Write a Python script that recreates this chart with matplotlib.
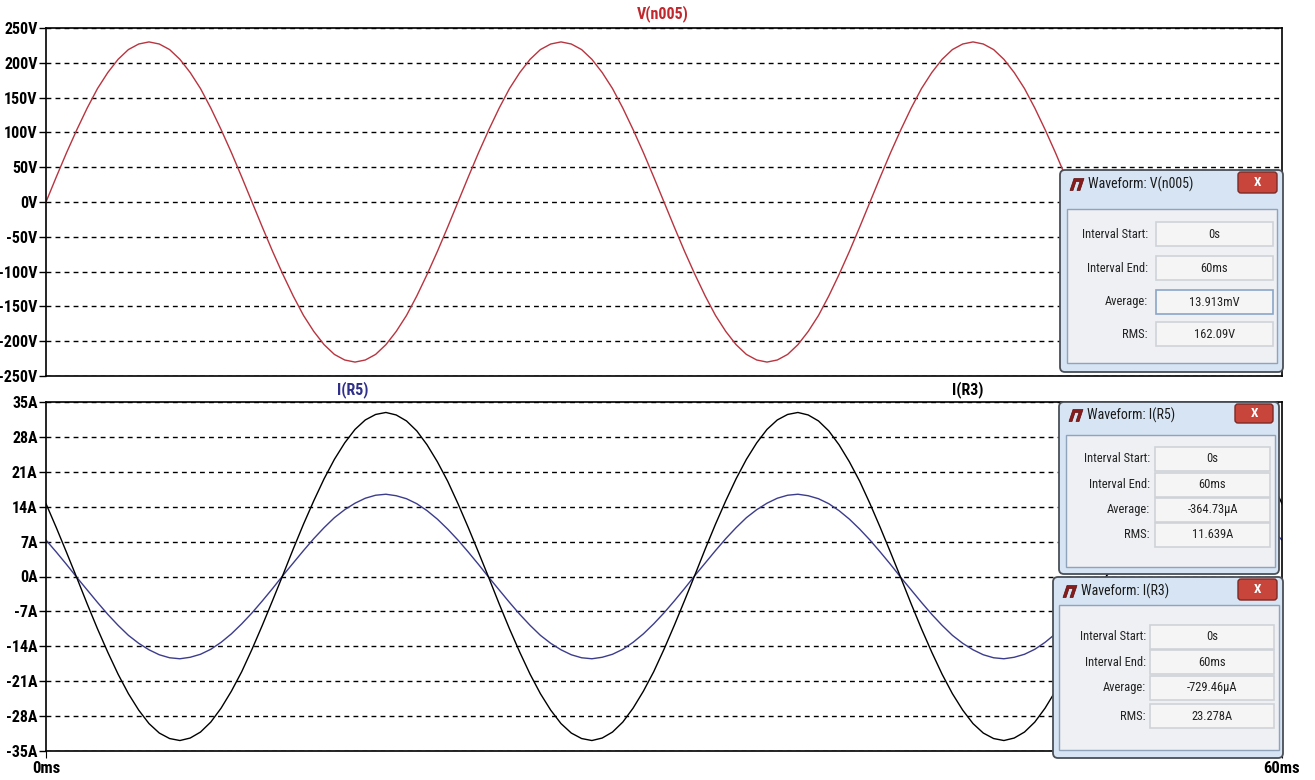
import numpy as np
import matplotlib
matplotlib.use("Agg")
import matplotlib.pyplot as plt
from matplotlib import font_manager
from matplotlib.patches import Rectangle, FancyBboxPatch, Polygon

# ---------------- data (0.5 ms steps) ----------------
t_ms = [k * 0.5 for k in range(121)]

v_n005 = [0, 36, 71, 104, 135, 163, 186, 205, 219, 227, 230, 227, 219, 205, 186, 163, 135, 104, 71, 36,
          0, -36, -71, -104, -135, -163, -186, -205, -219, -227, -230, -227, -219, -205, -186, -163, -135, -104, -71, -36,
          0, 36, 71, 104, 135, 163, 186, 205, 219, 227, 230, 227, 219, 205, 186, 163, 135, 104, 71, 36,
          0, -36, -71, -104, -135, -163, -186, -205, -219, -227, -230, -227, -219, -205, -186, -163, -135, -104, -71, -36,
          0, 36, 71, 104, 135, 163, 186, 205, 219, 227, 230, 227, 219, 205, 186, 163, 135, 104, 71, 36,
          0, -36, -71, -104, -135, -163, -186, -205, -219, -227, -230, -227, -219, -205, -186, -163, -135, -104, -71, -36,
          0]

i_r5 = [7.3, 4.9, 2.4, -0.2, -2.7, -5.2, -7.6, -9.8, -11.8, -13.4, -14.7, -15.7, -16.3, -16.5, -16.2, -15.6, -14.6, -13.2, -11.5, -9.5,
        -7.3, -4.9, -2.4, 0.2, 2.7, 5.2, 7.6, 9.8, 11.8, 13.4, 14.7, 15.7, 16.3, 16.5, 16.2, 15.6, 14.6, 13.2, 11.5, 9.5,
        7.3, 4.9, 2.4, -0.2, -2.7, -5.2, -7.6, -9.8, -11.8, -13.4, -14.7, -15.7, -16.3, -16.5, -16.2, -15.6, -14.6, -13.2, -11.5, -9.5,
        -7.3, -4.9, -2.4, 0.2, 2.7, 5.2, 7.6, 9.8, 11.8, 13.4, 14.7, 15.7, 16.3, 16.5, 16.2, 15.6, 14.6, 13.2, 11.5, 9.5,
        7.3, 4.9, 2.4, -0.2, -2.7, -5.2, -7.6, -9.8, -11.8, -13.4, -14.7, -15.7, -16.3, -16.5, -16.2, -15.6, -14.6, -13.2, -11.5, -9.5,
        -7.3, -4.9, -2.4, 0.2, 2.7, 5.2, 7.6, 9.8, 11.8, 13.4, 14.7, 15.7, 16.3, 16.5, 16.2, 15.6, 14.6, 13.2, 11.5, 9.5,
        7.3]

i_r3 = [14.6, 9.8, 4.8, -0.3, -5.5, -10.5, -15.2, -19.6, -23.5, -26.8, -29.5, -31.4, -32.5, -32.9, -32.4, -31.2, -29.2, -26.4, -23.0, -19.1,
        -14.6, -9.8, -4.8, 0.3, 5.5, 10.5, 15.2, 19.6, 23.5, 26.8, 29.5, 31.4, 32.5, 32.9, 32.4, 31.2, 29.2, 26.4, 23.0, 19.1,
        14.6, 9.8, 4.8, -0.3, -5.5, -10.5, -15.2, -19.6, -23.5, -26.8, -29.5, -31.4, -32.5, -32.9, -32.4, -31.2, -29.2, -26.4, -23.0, -19.1,
        -14.6, -9.8, -4.8, 0.3, 5.5, 10.5, 15.2, 19.6, 23.5, 26.8, 29.5, 31.4, 32.5, 32.9, 32.4, 31.2, 29.2, 26.4, 23.0, 19.1,
        14.6, 9.8, 4.8, -0.3, -5.5, -10.5, -15.2, -19.6, -23.5, -26.8, -29.5, -31.4, -32.5, -32.9, -32.4, -31.2, -29.2, -26.4, -23.0, -19.1,
        -14.6, -9.8, -4.8, 0.3, 5.5, 10.5, 15.2, 19.6, 23.5, 26.8, 29.5, 31.4, 32.5, 32.9, 32.4, 31.2, 29.2, 26.4, 23.0, 19.1,
        14.6]

v_ticks = [-250, -200, -150, -100, -50, 0, 50, 100, 150, 200, 250]
i_ticks = [-35, -28, -21, -14, -7, 0, 7, 14, 21, 28, 35]

# measurement dialogs: (title, interval start, interval end, average, rms)
meas_v = ["Waveform: V(n005)", "0s", "60ms", "13.913mV", "162.09V"]
meas_r5 = ["Waveform: I(R5)", "0s", "60ms", "-364.73\u00b5A", "11.639A"]
meas_r3 = ["Waveform: I(R3)", "0s", "60ms", "-729.46\u00b5A", "23.278A"]
row_names = ["Interval Start:", "Interval End:", "Average:", "RMS:"]

# pick a narrow face if one is installed
names = {f.name for f in font_manager.fontManager.ttflist}
narrow = [n for n in ["Liberation Sans Narrow", "Arial Narrow", "Roboto Condensed",
                      "Open Sans Condensed", "DejaVu Sans Condensed"] if n in names]
FONT = narrow + ["Liberation Sans", "DejaVu Sans"]
plt.rcParams["font.family"] = FONT
plt.rcParams["font.stretch"] = "condensed"

W, H = 1315, 780
fig = plt.figure(figsize=(W / 100, H / 100), dpi=100)


def px_axes(x0, y0, x1, y1):
    return fig.add_axes([x0 / W, 1 - y1 / H, (x1 - x0) / W, (y1 - y0) / H])


def style(ax, ticks, unit):
    ax.set_xlim(0, 60)
    ax.set_ylim(ticks[0], ticks[-1])
    ax.set_yticks(ticks)
    ax.set_yticklabels([f"{v}{unit}" for v in ticks], fontsize=11.5, fontweight="bold")
    ax.tick_params(axis="y", direction="out", length=5, width=1, pad=1)
    ax.yaxis.grid(True, linestyle=(0, (3.5, 3)), color="black", linewidth=1)
    for s in ax.spines.values():
        s.set_linewidth(1.2)


# ----- top: voltage
ax1 = px_axes(46, 28, 1282, 376)
ax1.plot(t_ms, v_n005, color="#b8343f", linewidth=1)
style(ax1, v_ticks, "V")
ax1.set_xticks([])

# ----- bottom: currents
ax2 = px_axes(46, 402, 1282, 751)
ax2.plot(t_ms, i_r5, color="#3c3c8c", linewidth=1)
ax2.plot(t_ms, i_r3, color="black", linewidth=1)
style(ax2, i_ticks, "A")
ax2.set_xticks([0, 60])
ax2.set_xticklabels(["0ms", "60ms"], fontsize=12, fontweight="bold")
ax2.tick_params(axis="x", direction="out", length=5, pad=2)

# ----- overlay in pixel coordinates for trace names and the dialogs
ov = fig.add_axes([0, 0, 1, 1])
ov.set_xlim(0, W)
ov.set_ylim(H, 0)
ov.axis("off")

ov.text(663, 14, "V(n005)", color="#c0282d", fontsize=11.5, fontweight="bold", ha="center", va="center")
ov.text(353, 390, "I(R5)", color="#30308a", fontsize=11.5, fontweight="bold", ha="center", va="center")
ov.text(968, 390, "I(R3)", color="black", fontsize=11.5, fontweight="bold", ha="center", va="center")


def dialog(box, panel, btn, vx, label_r, rows_y, meas, focus=False):
    x0, y0, x1, y1 = box
    ov.add_patch(FancyBboxPatch((x0, y0), x1 - x0, y1 - y0, boxstyle="round,pad=0,rounding_size=5",
                                facecolor="#d6e4f3", edgecolor="#4a4f57", linewidth=1.3, zorder=5))
    px0, py0, px1, py1 = panel
    ov.add_patch(Rectangle((px0, py0), px1 - px0, py1 - py0, facecolor="#eef0f3",
                           edgecolor="#8fa3bb", linewidth=1, zorder=6))
    bx0, by0, bx1, by1 = btn
    ov.add_patch(FancyBboxPatch((bx0, by0), bx1 - bx0, by1 - by0, boxstyle="round,pad=0,rounding_size=3",
                                facecolor="#c8453b", edgecolor="#7c2a25", linewidth=1, zorder=6))
    ov.text((bx0 + bx1) / 2, (by0 + by1) / 2, "X", color="white", fontsize=9.5, fontweight="bold",
            ha="center", va="center", zorder=7)
    # LTspice logo + title
    ty = (by0 + by1) / 2 + 2
    lx = x0 + 10
    ov.add_patch(Polygon([(lx, ty + 6), (lx + 4, ty - 6), (lx + 14, ty - 6), (lx + 10, ty + 6),
                          (lx + 7, ty + 6), (lx + 10, ty - 3), (lx + 6, ty - 3), (lx + 3, ty + 6)],
                         closed=True, facecolor="#8b1a1a", edgecolor="#5a1010", linewidth=0.5, zorder=7))
    ov.text(lx + 18, ty, meas[0], fontsize=10, color="#1a1a1a", ha="left", va="center", zorder=7)
    vx0, vx1 = vx
    for name, val, yc in zip(row_names, meas[1:], rows_y):
        ov.text(label_r, yc, name, fontsize=9, color="#222222", ha="right", va="center", zorder=7)
        edge = "#8aa6c8" if (focus and name == "Average:") else "#cfd3d8"
        ov.add_patch(Rectangle((vx0, yc - 12), vx1 - vx0, 24, facecolor="#f5f5f5",
                               edgecolor=edge, linewidth=1.2, zorder=7))
        ov.text((vx0 + vx1) / 2, yc, val, fontsize=9, color="#222222", ha="center", va="center", zorder=8)


dialog((1060, 170, 1283, 372), (1067, 209, 1277, 363), (1238, 172, 1277, 193),
       (1156, 1273), 1148, [234, 268, 302, 334], meas_v, focus=True)
dialog((1059, 402, 1279, 574), (1066, 435, 1275, 567), (1235, 404, 1273, 423),
       (1155, 1270), 1150, [459, 485, 510, 535], meas_r5)
dialog((1053, 577, 1283, 758), (1059, 605, 1279, 750), (1238, 579, 1277, 600),
       (1150, 1274), 1146, [637, 662, 688, 716], meas_r3)

fig.savefig("out.png", dpi=100)
